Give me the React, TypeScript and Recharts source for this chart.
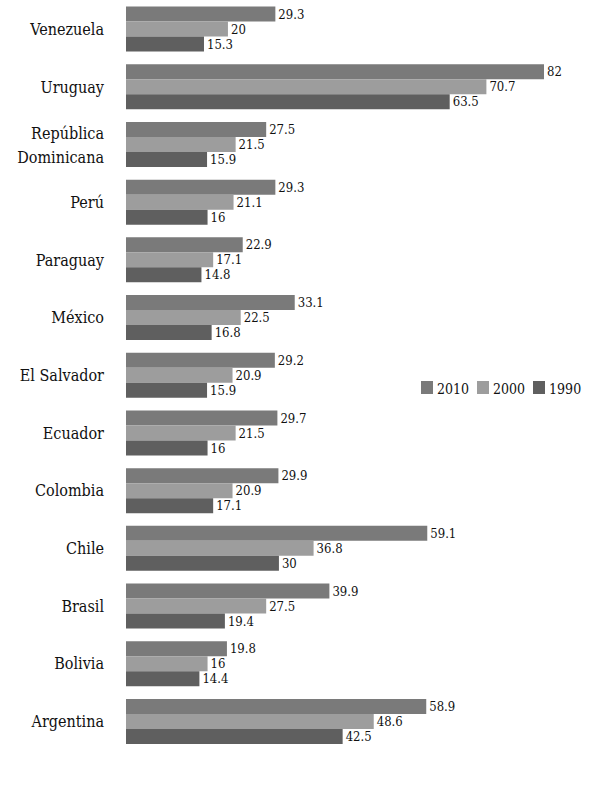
import { BarChart, Bar, XAxis, YAxis, LabelList, Legend } from 'recharts'

const categories = [
  'Venezuela',
  'Uruguay',
  'República Dominicana',
  'Perú',
  'Paraguay',
  'México',
  'El Salvador',
  'Ecuador',
  'Colombia',
  'Chile',
  'Brasil',
  'Bolivia',
  'Argentina',
]
const values2010 = [29.3, 82, 27.5, 29.3, 22.9, 33.1, 29.2, 29.7, 29.9, 59.1, 39.9, 19.8, 58.9]
const values2000 = [20, 70.7, 21.5, 21.1, 17.1, 22.5, 20.9, 21.5, 20.9, 36.8, 27.5, 16, 48.6]
const values1990 = [15.3, 63.5, 15.9, 16, 14.8, 16.8, 15.9, 16, 17.1, 30, 19.4, 14.4, 42.5]

const series = [
  { key: 'y2010', name: '2010', color: '#7a7a7a' },
  { key: 'y2000', name: '2000', color: '#9d9d9d' },
  { key: 'y1990', name: '1990', color: '#5f5f5f' },
]

const FONT = "'DejaVu Serif Condensed', 'DejaVu Serif', serif"

const data = categories.map((name, i) => ({
  name,
  y2010: values2010[i],
  y2000: values2000[i],
  y1990: values1990[i],
}))

// left-axis country names, right aligned; the long one wraps in two lines
const CountryTick = (props: any) => {
  const { y, payload } = props
  const label: string = payload.value
  const x = 104
  const style = { fontFamily: FONT, fontSize: 16, fontStretch: 'condensed' }
  if (label === 'República Dominicana') {
    return (
      <text x={x} y={y} textAnchor="end" style={style} fill="#111">
        <tspan x={x} dy={-5}>República</tspan>
        <tspan x={x} dy={24}>Dominicana</tspan>
      </text>
    )
  }
  return (
    <text x={x} y={y + 6} textAnchor="end" style={style} fill="#111">
      {label}
    </text>
  )
}

const LegendContent = () => (
  <div style={{ display: 'flex', alignItems: 'center', fontFamily: FONT, fontStretch: 'condensed', fontSize: 14, color: '#111' }}>
    {series.map(s => (
      <div key={s.key} style={{ display: 'flex', alignItems: 'center', marginRight: 8 }}>
        <span style={{ display: 'inline-block', width: 12, height: 13, background: s.color, marginRight: 4 }} />
        <span style={{ lineHeight: '16px', paddingTop: 4 }}>{s.name}</span>
      </div>
    ))}
  </div>
)

export default function App() {
  return (
    <div style={{ position: 'absolute', left: 0, top: 0, background: '#fff', fontFamily: FONT }}>
      <BarChart
        width={599}
        height={787}
        data={data}
        layout="vertical"
        margin={{ top: 0, right: 55, bottom: 17, left: 0 }}
        barCategoryGap={6.6}
        barGap={0}
        style={{ fontFamily: FONT }}
      >
        <XAxis type="number" domain={[0, 82]} hide />
        <YAxis
          type="category"
          dataKey="name"
          width={126}
          axisLine={false}
          tickLine={false}
          interval={0}
          tick={<CountryTick />}
        />
        <Legend
          content={<LegendContent />}
          wrapperStyle={{ position: 'absolute', left: 421, top: 377, width: 'auto', height: 'auto' }}
        />
        {series.map(s => (
          <Bar key={s.key} dataKey={s.key} name={s.name} fill={s.color} isAnimationActive={false}>
            <LabelList
              dataKey={s.key}
              position="right"
              offset={3}
              style={{ fontFamily: FONT, fontStretch: 'condensed', fontSize: 13 }}
              fill="#111"
            />
          </Bar>
        ))}
      </BarChart>
    </div>
  )
}
